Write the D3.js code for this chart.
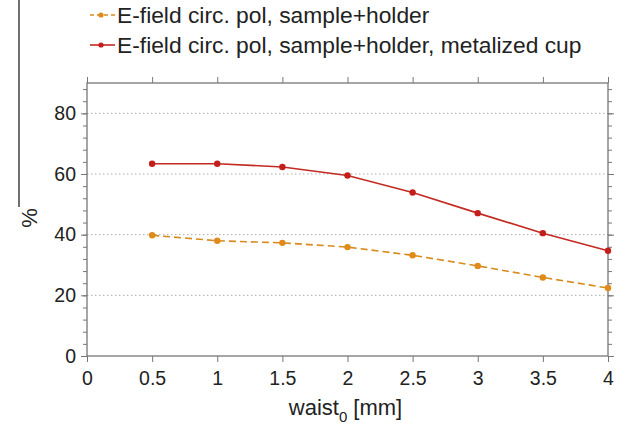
<!DOCTYPE html>
<html>
<head>
<meta charset="utf-8">
<script src="https://cdn.jsdelivr.net/npm/d3@7"></script>
<style>
  body { margin: 0; background: #fff; }
  text { font-family: "Liberation Sans", Arial, sans-serif; fill: #222; }
</style>
</head>
<body>
<svg id="chart" width="626" height="430"></svg>
<script>
// data
const waist = [0.5, 1, 1.5, 2, 2.5, 3, 3.5, 4];
const sampleHolder = [39.8, 38.0, 37.3, 35.9, 33.2, 29.7, 25.9, 22.4];
const metalizedCup = [63.4, 63.4, 62.3, 59.5, 53.9, 47.1, 40.5, 34.7];
const xTicks = [0, 0.5, 1, 1.5, 2, 2.5, 3, 3.5, 4];
const yTicks = [0, 20, 40, 60, 80];
const seriesNames = ["E-field circ. pol, sample+holder", "E-field circ. pol, sample+holder, metalized cup"];

const svg = d3.select("#chart");
const plotLeft = 87, plotRight = 608, plotTop = 83, plotBottom = 356;

const x = d3.scaleLinear().domain([0, 4]).range([plotLeft, plotRight]);
const y = d3.scaleLinear().domain([0, 90]).range([plotBottom, plotTop]);

const axisColor = "#777";

// grid
svg.append("g").selectAll("line")
  .data(yTicks.filter(d => d > 0))
  .enter().append("line")
  .attr("x1", plotLeft).attr("x2", plotRight)
  .attr("y1", d => y(d)).attr("y2", d => y(d))
  .attr("stroke", "#aaa").attr("stroke-width", 1)
  .attr("stroke-dasharray", "1.5,2.5");

// frame
svg.append("rect")
  .attr("x", plotLeft).attr("y", plotTop)
  .attr("width", plotRight - plotLeft).attr("height", plotBottom - plotTop)
  .attr("fill", "none").attr("stroke", axisColor).attr("stroke-width", 1.3);

// axes
const minorY = d3.range(0, 91, 4);
function styleAxis(g) {
  g.select(".domain").remove();
  g.selectAll(".tick line").attr("stroke", axisColor).attr("stroke-width", 1);
  g.selectAll(".tick text").attr("font-size", 19.5).attr("fill", "#222")
    .style("font-family", "'Liberation Sans', Arial, sans-serif");
}
svg.append("g").attr("transform", `translate(0,${plotBottom})`)
  .call(d3.axisBottom(x).tickValues(xTicks).tickSize(6).tickPadding(9).tickFormat(d3.format("~g")))
  .call(styleAxis);
svg.append("g").attr("transform", `translate(0,${plotTop})`)
  .call(d3.axisTop(x).tickValues(xTicks).tickSize(6).tickFormat(""))
  .call(styleAxis);
svg.append("g").attr("transform", `translate(${plotLeft},0)`)
  .call(d3.axisLeft(y).tickValues(yTicks).tickSize(6).tickPadding(5))
  .call(styleAxis);
svg.append("g").attr("transform", `translate(${plotLeft},0)`)
  .call(d3.axisLeft(y).tickValues(minorY).tickSize(4).tickFormat(""))
  .call(styleAxis);
svg.append("g").attr("transform", `translate(${plotRight},0)`)
  .call(d3.axisRight(y).tickValues(yTicks).tickSize(6).tickFormat(""))
  .call(styleAxis);
svg.append("g").attr("transform", `translate(${plotRight},0)`)
  .call(d3.axisRight(y).tickValues(minorY).tickSize(4).tickFormat(""))
  .call(styleAxis);

// axis titles
const xt = svg.append("text").attr("x", (plotLeft + plotRight) / 2 - 2).attr("y", 415)
  .attr("text-anchor", "middle").attr("font-size", 22);
xt.append("tspan").text("waist");
xt.append("tspan").attr("font-size", 15).attr("dy", 7).text("0");
xt.append("tspan").attr("dy", -7).text(" [mm]");

svg.append("line").attr("x1", 19).attr("x2", 19).attr("y1", 0).attr("y2", 207)
  .attr("stroke", "#222").attr("stroke-width", 1.3);
svg.append("text").attr("transform", "translate(37,218) rotate(-90)")
  .attr("text-anchor", "middle").attr("font-size", 22).text("%");

// series
const series = [
  { name: seriesNames[0], values: sampleHolder, line: "#d98a1c", dot: "#e08a1a", dash: "7,4" },
  { name: seriesNames[1], values: metalizedCup, line: "#c22a22", dot: "#c41e1a", dash: null }
];
const line = d3.line().x((d, i) => x(waist[i])).y(d => y(d));

series.forEach(s => {
  svg.append("path").datum(s.values)
    .attr("d", line).attr("fill", "none")
    .attr("stroke", s.line).attr("stroke-width", 1.6)
    .attr("stroke-dasharray", s.dash);
  svg.append("g").selectAll("circle").data(s.values).enter().append("circle")
    .attr("cx", (d, i) => x(waist[i])).attr("cy", d => y(d))
    .attr("r", 3.2).attr("fill", s.dot);
});

// legend
series.forEach((s, i) => {
  const ly = 15 + i * 30;
  svg.append("line").attr("x1", 90).attr("x2", 115).attr("y1", ly).attr("y2", ly)
    .attr("stroke", s.line).attr("stroke-width", 1.6).attr("stroke-dasharray", s.dash ? "4,3" : null);
  svg.append("circle").attr("cx", 101).attr("cy", ly).attr("r", 2.6).attr("fill", s.dot);
  svg.append("text").attr("x", 117).attr("y", ly + 8).attr("font-size", 22.8).text(s.name);
});
</script>
</body>
</html>
